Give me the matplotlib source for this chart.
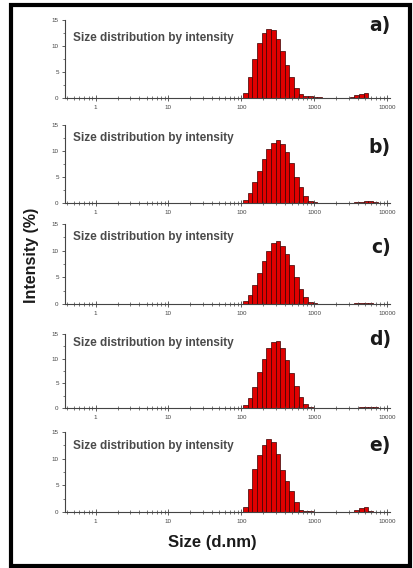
"""
Stacked DLS size distributions (a-e), intensity histograms
"""

import matplotlib.pyplot as plt
from matplotlib.patches import Rectangle
from matplotlib.ticker import LogLocator, NullFormatter, FixedLocator, FixedFormatter, MultipleLocator
import numpy as np

# Malvern size classes (bin edges, d.nm) covering the non-empty part of the histograms
size_edges = [91.28, 105.7, 122.4, 141.8, 164.2, 190.1, 220.2, 255.0, 295.3, 342.0,
              396.1, 458.7, 531.2, 615.1, 712.4, 825.0, 955.4, 1106, 1281, 1484,
              1718, 1990, 2305, 2669, 3091, 3580, 4145, 4801, 5560, 6439, 7456, 8635, 10000]

# intensity (%) per size class, one list per sample
intensity_a = [0, 1.0, 4.0, 7.5, 10.5, 12.5, 13.3, 13.0, 11.3, 9.0, 6.3, 4.0, 2.0, 0.8, 0.3, 0.3,
               0.2, 0.1, 0, 0, 0, 0, 0, 0, 0.2, 0.5, 0.8, 1.0, 0, 0, 0, 0]
intensity_b = [0, 0.6, 2.0, 4.0, 6.2, 8.5, 10.4, 11.6, 12.1, 11.4, 9.9, 7.6, 5.0, 3.0, 1.4, 0.4,
               0.1, 0, 0, 0, 0, 0, 0, 0, 0, 0.2, 0.2, 0.3, 0.3, 0.2, 0, 0]
intensity_c = [0, 0.5, 1.7, 3.6, 5.8, 8.0, 10.0, 11.4, 11.8, 10.9, 9.3, 7.3, 5.0, 2.9, 1.3, 0.4,
               0.1, 0, 0, 0, 0, 0, 0, 0, 0, 0.2, 0.2, 0.2, 0.1, 0, 0, 0]
intensity_d = [0, 0.7, 2.0, 4.3, 7.2, 10.0, 12.1, 13.4, 13.5, 12.1, 9.7, 7.0, 4.4, 2.3, 0.8, 0.2,
               0, 0, 0, 0, 0, 0, 0, 0, 0, 0.1, 0.2, 0.3, 0.3, 0.2, 0, 0]
intensity_e = [0, 1.0, 4.4, 8.0, 10.6, 12.5, 13.7, 13.1, 10.8, 7.9, 5.9, 4.0, 1.9, 0.4, 0.2, 0.1,
               0, 0, 0, 0, 0, 0, 0, 0, 0, 0.3, 0.7, 1.0, 0.2, 0, 0, 0]

panel_data = [intensity_a, intensity_b, intensity_c, intensity_d, intensity_e]
panel_letters = ["a)", "b)", "c)", "d)", "e)"]
x_ticks = [1, 10, 100, 1000, 10000]
x_tick_labels = ["1", "10", "100", "1000", "10000"]
y_ticks = [0, 5, 10, 15]

W, H = 414, 568
# pixel geometry of each panel: (top, bottom, title y, letter y)
panel_px = [(20, 98, 38, 25), (125, 203, 138, 147), (224, 304, 237, 248),
            (334, 408, 343, 340), (432, 512, 446, 445)]
ax_left, ax_right = 65, 390

plt.rcParams['font.family'] = ['Liberation Sans', 'DejaVu Sans']
fig = plt.figure(figsize=(W / 100, H / 100), dpi=100)

edges = np.array(size_edges)
for vals, letter, (top, bot, ty, ly) in zip(panel_data, panel_letters, panel_px):
    ax = fig.add_axes([ax_left / W, 1 - bot / H, (ax_right - ax_left) / W, (bot - top) / H])
    ax.bar(edges[:-1], vals, width=np.diff(edges), align='edge',
           color='#e00000', edgecolor='#3a0000', linewidth=0.5)
    ax.set_xscale('log')
    ax.set_xlim(0.38, 11000)
    ax.set_ylim(0, 15)
    ax.xaxis.set_major_locator(FixedLocator(x_ticks))
    ax.xaxis.set_major_formatter(FixedFormatter(x_tick_labels))
    ax.xaxis.set_minor_locator(LogLocator(base=10, subs=np.arange(2, 10)))
    ax.xaxis.set_minor_formatter(NullFormatter())
    ax.set_yticks(y_ticks)
    ax.yaxis.set_minor_locator(MultipleLocator(2.5))
    for s in ['top', 'right']:
        ax.spines[s].set_visible(False)
    for s in ['left', 'bottom']:
        ax.spines[s].set_color('#444444')
        ax.spines[s].set_linewidth(0.8)
    ax.tick_params(axis='x', which='major', direction='inout', length=4, width=0.6,
                   labelsize=4.5, colors='#444444', pad=3)
    ax.tick_params(axis='x', which='minor', direction='inout', length=2.5, width=0.5, colors='#444444')
    ax.tick_params(axis='y', which='major', direction='out', length=2.5, width=0.6,
                   labelsize=4.5, colors='#444444', pad=2)
    ax.tick_params(axis='y', which='minor', direction='out', length=1.5, width=0.5, colors='#444444')
    ax.patch.set_alpha(0)
    # panel annotations placed in figure pixels
    fig.text(73 / W, 1 - ty / H, "Size distribution by intensity", fontsize=8.5,
             fontweight='bold', color='#4a4a4a', ha='left', va='center')
    fig.text(391 / W, 1 - ly / H, letter, fontsize=13.5, fontweight='bold',
             family='DejaVu Sans', color='#1a1a1a', ha='right', va='center')

fig.text(32 / W, 1 - 255 / H, "Intensity (%)", fontsize=11.5, fontweight='bold',
         rotation=90, ha='center', va='center', color='#1a1a1a')
fig.text(212 / W, 1 - 543 / H, "Size (d.nm)", fontsize=12, fontweight='bold',
         ha='center', va='center', color='#1a1a1a')

# black frame around the whole figure
fig.patches.append(Rectangle((10.5 / W, 2.5 / H), 400 / W, (565.5 - 4.5) / H,
                             transform=fig.transFigure, fill=False,
                             edgecolor='black', linewidth=3))

fig.savefig("out.png", dpi=100)
